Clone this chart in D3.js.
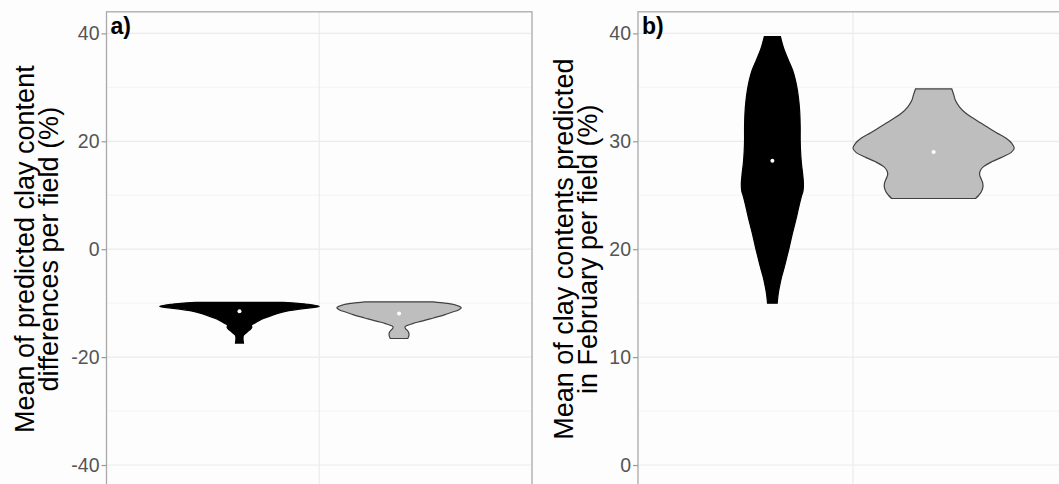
<!DOCTYPE html>
<html>
<head>
<meta charset="utf-8">
<script src="https://cdn.jsdelivr.net/npm/d3@7"></script>
<style>
  body { margin: 0; background: #fff; }
  text { font-family: "Liberation Sans", Arial, sans-serif; }
</style>
</head>
<body>
<div id="chart"></div>
<script>
const CTX = {
    SVG_W: 1059,
    SVG_H: 484,
    GRID: "#ebebeb",
    GRID_MINOR: "#f4f4f4",
    BORDER: "#a9a9a9"
};

// two groups dodged inside the single x category
const groupFill = ["#000000", "#bebebe"];
const groupStroke = ["#000000", "#404040"];
const groupOffset = [-1, 1];

// panel a) - mean of predicted clay content differences
const aTicks = [-40, -20, 0, 20, 40];
const aMinor = [-30, -10, 10, 30];
const aBlackY = [-9.85, -10.2, -10.6, -11.0, -11.4, -11.9, -12.3, -12.8, -13.2, -13.7, -14.1, -14.5, -14.9, -15.3, -15.7, -16.0, -16.3, -16.8, -17.4];
const aBlackW = [0.55, 0.85, 1.0, 0.8, 0.62, 0.48, 0.4, 0.31, 0.25, 0.19, 0.15, 0.155, 0.135, 0.1, 0.07, 0.05, 0.045, 0.045, 0.05];
const aGreyY = [-9.75, -10.0, -10.3, -10.85, -11.3, -11.6, -12.0, -12.35, -12.75, -13.16, -13.5, -13.8, -14.1, -14.4, -14.7, -15.0, -15.4, -15.8, -16.2, -16.55];
const aGreyW = [0.43, 0.58, 0.7, 0.78, 0.74, 0.68, 0.6, 0.53, 0.43, 0.33, 0.24, 0.17, 0.11, 0.075, 0.08, 0.1, 0.12, 0.125, 0.12, 0.11];
const aMedians = [-11.5, -11.9];

// panel b) - mean of clay contents predicted in February
const bTicks = [0, 10, 20, 30, 40];
const bMinor = [5, 15, 25, 35];
const bBlackY = [39.7, 38.5, 37.5, 36.6, 35.7, 34.75, 33.6, 32.6, 31.3, 30.1, 29.0, 27.96, 27.0, 26.1, 25.4, 24.9, 24.0, 23.0, 22.1, 21.2, 20.2, 19.3, 18.4, 17.45, 16.6, 15.9, 15.0];
const bBlackW = [0.1, 0.145, 0.2, 0.25, 0.285, 0.31, 0.33, 0.34, 0.345, 0.345, 0.35, 0.36, 0.375, 0.385, 0.38, 0.36, 0.33, 0.3, 0.27, 0.24, 0.21, 0.18, 0.15, 0.115, 0.09, 0.073, 0.06];
const bGreyY = [34.85, 34.3, 33.8, 33.2, 32.6, 32.0, 31.35, 30.8, 30.28, 29.8, 29.35, 28.95, 28.57, 28.1, 27.65, 27.3, 26.9, 26.5, 26.1, 25.7, 25.3, 25.0, 24.7];
const bGreyW = [0.225, 0.25, 0.27, 0.32, 0.4, 0.52, 0.66, 0.78, 0.9, 0.97, 1.0, 0.96, 0.86, 0.72, 0.62, 0.58, 0.57, 0.59, 0.61, 0.61, 0.59, 0.56, 0.52];
const bMedians = [28.2, 29.0];

function buildPanel(cfg) {
    let g = CTX.svgEl.append("g").attr("id", cfg.id);
    let x = d3.scaleLinear().domain([0.4, 1.6]).range([cfg.left, cfg.right]);
    let y = d3.scaleLinear().domain(cfg.domain).range([cfg.bottom, cfg.top]);
    // violin width 0.9 split between two dodged groups
    let halfW = d3.scaleLinear().domain([0, 1]).range([0, 0.225]);

    g.selectAll(".minor")
        .data(cfg.minor)
        .enter()
        .append("line")
        .attr("x1", cfg.left).attr("x2", cfg.right)
        .attr("y1", d => y(d)).attr("y2", d => y(d))
        .style("stroke", CTX.GRID_MINOR)
        .style("stroke-width", 1);
    g.selectAll(".major")
        .data(cfg.ticks)
        .enter()
        .append("line")
        .attr("x1", cfg.left).attr("x2", cfg.right)
        .attr("y1", d => y(d)).attr("y2", d => y(d))
        .style("stroke", CTX.GRID)
        .style("stroke-width", 1.2);
    g.append("line")
        .attr("x1", x(1)).attr("x2", x(1))
        .attr("y1", cfg.top).attr("y2", cfg.bottom)
        .style("stroke", CTX.GRID)
        .style("stroke-width", 1.2);

    cfg.violins.forEach(function (v, i) {
        let cx = 1 + groupOffset[i] * 0.225;
        let pts = v.ys.map((val, k) => ({ val: val, w: v.ws[k] }));
        let area = d3.area()
            .y(d => y(d.val))
            .x0(d => x(cx - halfW(d.w)))
            .x1(d => x(cx + halfW(d.w)))
            .curve(d3.curveCatmullRom);
        g.append("path")
            .attr("d", area(pts))
            .style("fill", groupFill[i])
            .style("stroke", groupStroke[i])
            .style("stroke-width", 1.2);
        g.append("circle")
            .attr("cx", x(cx))
            .attr("cy", y(cfg.medians[i]))
            .attr("r", 2)
            .style("fill", "white");
    });

    g.append("rect")
        .attr("x", cfg.left).attr("y", cfg.top)
        .attr("width", cfg.right - cfg.left)
        .attr("height", cfg.bottom - cfg.top)
        .style("fill", "none")
        .style("stroke", CTX.BORDER)
        .style("stroke-width", 1.3);

    let axis = g.append("g").attr("transform", `translate(${cfg.left},0)`)
        .call(d3.axisLeft(y).tickValues(cfg.ticks).tickSize(5).tickPadding(2)
            .tickFormat(d => String(d)));
    axis.select(".domain").remove();
    axis.selectAll(".tick line").style("stroke", "#9a9a9a").style("stroke-width", 1.2);
    axis.selectAll(".tick text")
        .style("font-size", "19.5px")
        .style("fill", "#555555")
        .style("font-family", '"Liberation Sans", Arial, sans-serif');

    let midY = (cfg.top + cfg.bottom) / 2;
    let title = g.append("text")
        .attr("transform", `translate(${cfg.titleX},${midY}) rotate(-90)`)
        .style("font-size", "27px")
        .style("fill", "#000")
        .attr("text-anchor", "middle");
    cfg.title.forEach(function (line, k) {
        title.append("tspan")
            .attr("x", 0)
            .attr("y", k * 24.3)
            .text(line);
    });

    g.append("text")
        .attr("x", cfg.left + 4)
        .attr("y", cfg.top + 22)
        .style("font-size", "23px")
        .style("font-weight", "bold")
        .text(cfg.tag);
}

function createViz() {
    CTX.svgEl = d3.select("#chart").append("svg")
        .attr("width", CTX.SVG_W)
        .attr("height", CTX.SVG_H);
    CTX.svgEl.append("rect")
        .attr("width", CTX.SVG_W).attr("height", CTX.SVG_H)
        .style("fill", "#fdfdfd");

    buildPanel({
        id: "panelA", tag: "a)",
        left: 106.5, right: 532, top: 11.8, bottom: 486.6,
        domain: [-44, 44], ticks: aTicks, minor: aMinor,
        violins: [{ ys: aBlackY, ws: aBlackW }, { ys: aGreyY, ws: aGreyW }],
        medians: aMedians,
        titleX: 34,
        title: ["Mean of predicted clay content", "differences per field (%)"]
    });
    buildPanel({
        id: "panelB", tag: "b)",
        left: 638, right: 1068, top: 11.8, bottom: 486.6,
        domain: [-2, 42], ticks: bTicks, minor: bMinor,
        violins: [{ ys: bBlackY, ws: bBlackW }, { ys: bGreyY, ws: bGreyW }],
        medians: bMedians,
        titleX: 573,
        title: ["Mean of clay contents predicted", "in February per field (%)"]
    });
}

createViz();
</script>
</body>
</html>
